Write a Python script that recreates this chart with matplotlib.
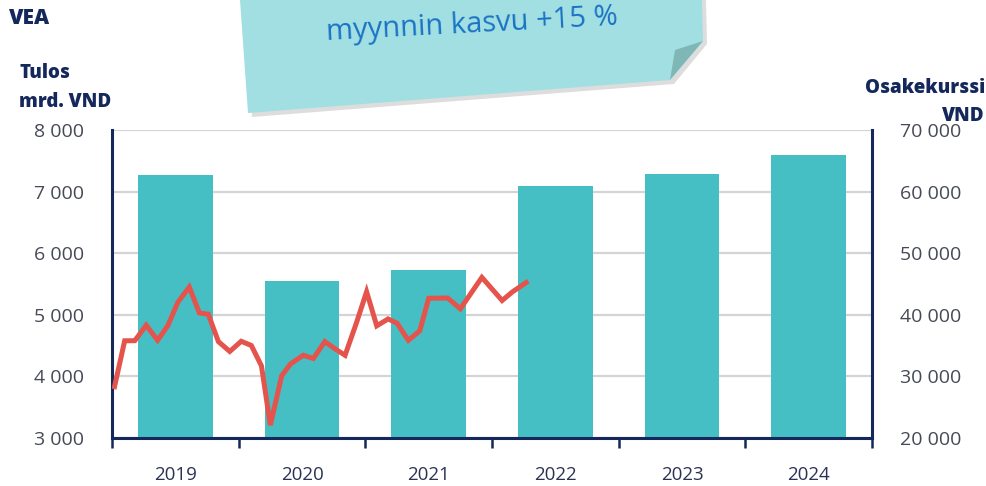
import matplotlib
matplotlib.use('Agg')
import matplotlib.pyplot as plt
from matplotlib.patches import Polygon
from matplotlib.ticker import FuncFormatter, FixedLocator
import numpy as np

# tulos (mrd. VND), vasen akseli
years = ['2019', '2020', '2021', '2022', '2023', '2024']
profit = [7270, 5550, 5730, 7090, 7290, 7590]

# osakekurssi (VND), oikea akseli, aika vuosina
price_t = [2019.02, 2019.10, 2019.18, 2019.27, 2019.36, 2019.44, 2019.52, 2019.61,
           2019.69, 2019.76, 2019.84, 2019.93, 2020.02, 2020.10, 2020.18, 2020.25,
           2020.34, 2020.41, 2020.51, 2020.59, 2020.68, 2020.76, 2020.84, 2020.93,
           2021.01, 2021.09, 2021.18, 2021.25, 2021.34, 2021.43, 2021.50, 2021.65,
           2021.75, 2021.92, 2022.08, 2022.16, 2022.27]
price = [28330, 35780, 35800, 38310, 35860, 38210, 42030, 44500,
         40300, 40100, 35650, 34050, 35700, 35020, 31700, 22080,
         30130, 32030, 33430, 32910, 35650, 34480, 33430, 38700,
         43750, 38210, 39330, 38640, 35860, 37400, 42680, 42730,
         40970, 46070, 42320, 43700, 45240]

left_ticks = [3000, 4000, 5000, 6000, 7000, 8000]
right_ticks = [20000, 30000, 40000, 50000, 60000, 70000]

W, H = 986, 486
NAVY = '#15285c'
TEAL = '#45bfc4'
RED = '#e5544c'
GRID = '#d4d4d4'

plt.rcParams['font.family'] = ['Open Sans', 'DejaVu Sans']

fig = plt.figure(figsize=(W / 100, H / 100), dpi=100)
fig.patch.set_facecolor('white')


def px(x, y):
    return (x / W, 1 - y / H)


ax_l, ax_r, ax_t, ax_b = 112, 872, 130, 438
ax = fig.add_axes([ax_l / W, 1 - ax_b / H, (ax_r - ax_l) / W, (ax_b - ax_t) / H])
ax2 = ax.twinx()

x = np.arange(len(years))
ax.bar(x, profit, width=0.59, color=TEAL, zorder=2)
ax.set_xlim(-0.5, len(years) - 0.5)
ax.set_ylim(3000, 8000)
ax.set_yticks(left_ticks)
ax.yaxis.grid(True, color=GRID, linewidth=1.6, zorder=0)
ax.set_axisbelow(True)

fmt = FuncFormatter(lambda v, p: f'{int(v):,}'.replace(',', ' '))
ax.yaxis.set_major_formatter(fmt)
ax.tick_params(axis='y', length=0, pad=20, labelsize=14, labelcolor='#464a56')

ax.set_xticks(x)
ax.set_xticklabels(years)
ax.xaxis.set_minor_locator(FixedLocator(np.arange(-0.5, len(years), 1.0)))
ax.tick_params(axis='x', which='major', length=0, pad=20, labelsize=13.5, labelcolor='#2a3352')
ax.tick_params(axis='x', which='minor', length=7, width=1.8, color=NAVY, direction='out')

# hinta piirretaan kategoria-akselille: vuoden alku = kategorian vasen reuna
px_x = [t - 2019 - 0.5 for t in price_t]
ax2.plot(px_x, price, color=RED, linewidth=3.6, solid_joinstyle='miter', zorder=3)
ax2.set_ylim(20000, 70000)
ax2.set_yticks(right_ticks)
ax2.yaxis.set_major_formatter(fmt)
ax2.tick_params(axis='y', length=0, pad=20, labelsize=14, labelcolor='#464a56')

for a in (ax, ax2):
    a.spines['top'].set_visible(False)
    for s in ('left', 'right', 'bottom'):
        a.spines[s].set_color(NAVY)
        a.spines[s].set_linewidth(2.2)
ax.spines['right'].set_visible(False)
ax2.spines['left'].set_visible(False)
ax2.spines['bottom'].set_visible(False)

# otsikot
hdr = dict(fontweight='heavy', color=NAVY, va='center')
fig.text(*px(9, 18), 'VEA', fontsize=15, **hdr)
fig.text(*px(19, 73), 'Tulos', fontsize=13.5, **hdr)
fig.text(*px(19, 102), 'mrd. VND', fontsize=13.5, **hdr)
fig.text(*px(985, 88), 'Osakekurssi', fontsize=13.5, ha='right', **hdr)
fig.text(*px(985, 116), 'VND', fontsize=13.5, ha='right', **hdr)

# muistilappu
shadow = [(244, 0), (706, 0), (707, 44), (674, 84), (252, 117)]
note = [(240, 0), (702, 0), (703, 41), (670, 80), (248, 113)]
fold = [(675, 50), (703, 41), (670, 80)]
fig.patches.append(Polygon([px(*p) for p in shadow], closed=True, transform=fig.transFigure,
                           facecolor='#a0a0a0', alpha=0.35, edgecolor='none', zorder=5))
fig.patches.append(Polygon([px(*p) for p in note], closed=True, transform=fig.transFigure,
                           facecolor='#a2dfe2', edgecolor='none', zorder=6))
fig.patches.append(Polygon([px(*p) for p in fold], closed=True, transform=fig.transFigure,
                           facecolor='#7fb7b6', edgecolor='none', zorder=7))
fig.text(*px(472, 25), 'myynnin kasvu +15 %', fontsize=21, color='#1a73c4',
         ha='center', va='center', rotation=3, zorder=8)

fig.savefig('out.png', dpi=100)
